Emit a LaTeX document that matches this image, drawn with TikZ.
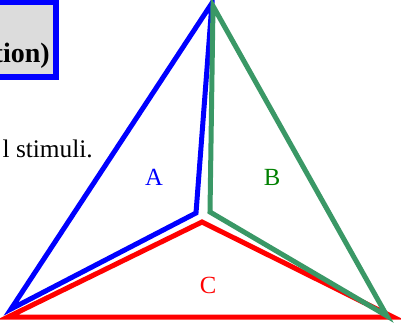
\documentclass[tikz,border=0pt]{standalone}
\usepackage{fontspec}
\setmainfont{Liberation Serif}
\definecolor{boxgray}{RGB}{220,220,220}
\definecolor{linegreen}{RGB}{58,152,102}
\definecolor{textgreen}{RGB}{0,128,0}
\tikzset{
  region/.style={line width=3.75pt,line join=miter,miter limit=20},
  label/.style={font=\fontsize{18.5}{22}\selectfont}
}

\begin{document}
\begin{tikzpicture}[x=0.75pt,y=-0.75pt]
        \useasboundingbox (0,0) rectangle (401,326);
        % title box (cut off at the left)
        \draw[blue,fill=boxgray,line width=4.5pt] (-200,2) rectangle (56,77);
        \node[anchor=base east,font=\bfseries\fontsize{21}{25}\selectfont,inner sep=0pt] (title) at (50,62) {tion)};
        \node[anchor=base east,font=\fontsize{19}{23}\selectfont,inner sep=0pt] (note) at (93,157) {l stimuli.};
        % the three regions
        \draw[region,blue] (212,3) -- (11,309) -- (196,213) -- cycle;
        \draw[region,red] (8,317) -- (202,222) -- (393,317) -- cycle;
        \draw[region,linegreen] (213,6) -- (210,212) -- (387,316) -- cycle;
        \node[label,blue] (A) at (154,177) {A};
        \node[label,textgreen] (B) at (272,177) {B};
        \node[label,red] (C) at (208,285) {C};
    \end{tikzpicture}
\end{document}
